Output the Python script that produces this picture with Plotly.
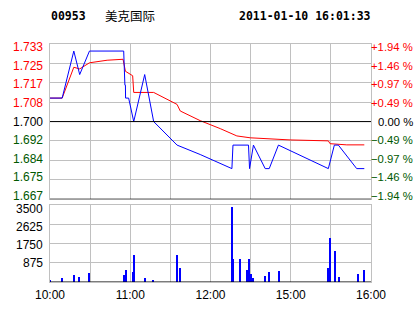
import plotly.graph_objects as go

# ---------------- data ----------------
# x = session minutes since 10:00 (10:00-12:30, 14:30-16:00 => 0..240)
price_min = [0, 9.1, 17.8, 22.2, 29.5, 55.1, 56.0, 56.4, 56.5, 58.8, 62.6, 70.8, 77.5,
             95.0, 112.3, 136.0, 136.8, 148.4, 149.2, 152.1, 160.9, 163.9, 170.8,
             208.1, 212.6, 215.6, 229.3, 235.0]
price_val = [1.710, 1.710, 1.730, 1.720, 1.730, 1.730, 1.7155, 1.7155, 1.710, 1.710, 1.700,
             1.720, 1.700, 1.690, 1.686, 1.680, 1.690, 1.690, 1.680, 1.690, 1.680,
             1.680, 1.690, 1.680, 1.690, 1.690, 1.680, 1.680]

avg_min = [0, 9.1, 17.8, 22.2, 29.5, 42.7, 54.6, 56.4, 61.8, 62.6, 77.5, 95.0, 97.4,
           112.3, 127.3, 139.7, 149.7, 179.5, 208.1, 209.4, 221.9, 235.0]
avg_val = [1.710, 1.710, 1.7231, 1.7224, 1.7250, 1.7261, 1.7265, 1.7214, 1.7195, 1.7124,
           1.7124, 1.7073, 1.7045, 1.7004, 1.6970, 1.6939, 1.6931, 1.6922, 1.6918,
           1.6906, 1.6901, 1.6901]

vol_min = [0, 9, 18, 22, 29, 55, 57, 62, 63, 71, 77, 95, 97, 136, 137, 142, 147, 149,
           150, 152, 161, 164, 171, 208, 209, 213, 216, 230, 235]
vol_val = [100, 190, 320, 230, 410, 320, 545, 455, 1250, 190, 100, 1250, 635, 3430, 1030,
           1030, 545, 1030, 365, 190, 280, 455, 500, 635, 2020, 1430, 230, 365, 545]

prev_close = 1.700
price_labels = ["1.733", "1.725", "1.717", "1.708", "1.700", "1.692", "1.684", "1.675", "1.667"]
pct_labels = ["+1.94 %", "+1.46 %", "+0.97 %", "+0.49 %", "0.00 %",
              "\u22120.49 %", "\u22120.97 %", "\u22121.46 %", "\u22121.94 %"]
vol_levels = [3500, 2625, 1750, 875]
vol_labels = ["3500", "2625", "1750", "875"]
time_ticks = [0, 30, 60, 90, 120, 150, 180, 210, 240]
time_labels = ["10:00", "", "11:00", "", "12:00", "", "15:00", "", "16:00"]

code = "00953"
name = "美克国际"
stamp = "2011-01-10 16:01:33"

# ---------------- figure ----------------
RED = "#FF0000"
BLUE = "#0000FF"
GREEN = "#005800"
GRID = "#C0C0C0"
W, H = 414, 314
ML, MR, MT, MB = 50, 43, 44, 26
PW, PH = W - ML - MR, H - MT - MB

step = (1.733 - 1.667) / 8
grid_vals = [1.667 + i * step for i in range(9)]

fig = go.Figure()
fig.add_trace(go.Scatter(x=avg_min, y=avg_val, mode="lines", line=dict(color=RED, width=1),
                         xaxis="x2", yaxis="y2", hoverinfo="skip"))
fig.add_trace(go.Scatter(x=price_min, y=price_val, mode="lines", line=dict(color=BLUE, width=1),
                         xaxis="x2", yaxis="y2", hoverinfo="skip"))
fig.add_trace(go.Bar(x=vol_min, y=vol_val, width=0.75, marker=dict(color=BLUE, line=dict(width=0)),
                     xaxis="x", yaxis="y", hoverinfo="skip"))

ax_common = dict(range=[0, 240], tickvals=time_ticks, showgrid=True, gridcolor=GRID, gridwidth=1,
                 zeroline=False, showline=True, linecolor=GRID, linewidth=1, mirror=True, ticks="")
fig.update_layout(
    width=W, height=H, margin=dict(l=ML, r=MR, t=MT, b=MB),
    paper_bgcolor="white", plot_bgcolor="white", showlegend=False,
    font=dict(family="Liberation Sans, Arial", size=12, color="black"),
    xaxis=dict(**ax_common, ticktext=time_labels, anchor="y", ticklabelstandoff=2,
               tickfont=dict(family="Liberation Sans, Arial", size=12, color="black")),
    xaxis2=dict(**ax_common, showticklabels=False, anchor="y2", matches="x"),
    yaxis=dict(domain=[0, 0.324], range=[0, 3500], tickvals=[0, 875, 1750, 2625, 3500],
               showticklabels=False, showgrid=True, gridcolor=GRID, zeroline=False,
               showline=True, linecolor=GRID, mirror=True, ticks=""),
    yaxis2=dict(domain=[0.348, 1], range=[1.667, 1.733], tickvals=grid_vals,
                showticklabels=False, showgrid=True, gridcolor=GRID, zeroline=False,
                showline=True, linecolor=GRID, mirror=True, ticks=""),
    bargap=0,
)

# black reference lines
for yv, yr in [(prev_close, "y2"), (1.667, "y2"), (0, "y")]:
    fig.add_shape(type="line", xref="paper", x0=0, x1=1, yref=yr, y0=yv, y1=yv,
                  line=dict(color="black", width=1), layer="above")

def col(i):
    return RED if i < 4 else ("black" if i == 4 else GREEN)

ann = []
for i, (lv, lab, pl) in enumerate(zip(grid_vals[::-1], price_labels, pct_labels)):
    ys = -3.4 * (1 - i / 4)
    ann.append(dict(xref="paper", yref="y2", x=-5.5 / PW, y=lv, yshift=ys, text=lab,
                    xanchor="right", yanchor="middle", showarrow=False,
                    font=dict(color=col(i), size=12, family="Liberation Sans, Arial")))
    ann.append(dict(xref="paper", yref="y2", x=(PW + MR + 1) / PW, y=lv, yshift=ys, text=pl,
                    xanchor="right", yanchor="middle", showarrow=False,
                    font=dict(color=col(i), size=11.3, family="Liberation Sans, Arial")))
for i, (lv, lab) in enumerate(zip(vol_levels, vol_labels)):
    ann.append(dict(xref="paper", yref="y", x=-5.5 / PW, y=lv, yshift=-(4 - 1.1 * i), text=lab,
                    xanchor="right", yanchor="middle", showarrow=False,
                    font=dict(color="black", size=12, family="Liberation Sans, Arial")))

hy = 1 + (MT - 15) / PH
hdr = dict(family="DejaVu Sans Mono", size=11.5, color="black")
ann.append(dict(xref="paper", yref="paper", x=-1 / PW, y=hy, text="<b>" + code + "</b>",
                xanchor="left", yanchor="middle", showarrow=False, font=hdr))
ann.append(dict(xref="paper", yref="paper", x=(104 - ML - 1) / PW, y=hy, text=name,
                xanchor="left", yanchor="middle", showarrow=False,
                font=dict(family="Noto Sans CJK SC", size=12.5, color="black")))
ann.append(dict(xref="paper", yref="paper", x=(238 - ML - 1) / PW, y=hy, text="<b>" + stamp + "</b>",
                xanchor="left", yanchor="middle", showarrow=False, font=hdr))
fig.update_layout(annotations=ann)

fig.write_html("out.html")
